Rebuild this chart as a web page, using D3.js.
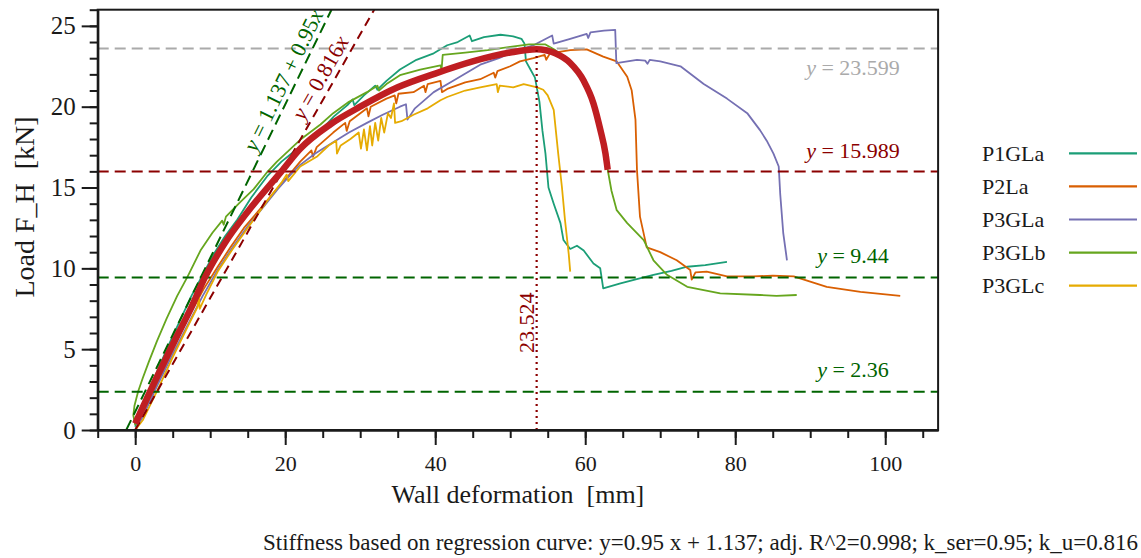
<!DOCTYPE html>
<html>
<head>
<meta charset="utf-8">
<script src="https://cdn.jsdelivr.net/npm/d3@7"></script>
<style>
  body { margin: 0; background: #fff; }
  svg text { font-family: "Liberation Serif", "Times New Roman", serif; }
</style>
</head>
<body>
<div class="visHolder"></div>
<script>
// test curves, [deformation mm, load kN]
const P1GLa = [[0,0.2],[0.5,0.9],[1.5,2.0],[3,3.7],[4.5,5.3],[6,6.8],[7.5,8.3],[9,9.6],[10.5,10.9],[12,12.0],[13.6,13.0],[15.5,14.4],[17.6,15.7],[19.5,16.6],[21.1,17.2],[23,17.9],[24.7,18.5],[26.5,19.4],[28.3,20.1],[29,20.45],[29.2,20.1],[30.5,20.7],[32,21.3],[32.3,21.05],[33.5,21.6],[35.3,22.3],[37.5,22.9],[39.8,23.3],[41.6,23.8],[43,24.0],[44.6,24.4],[44.9,24.05],[46.5,24.3],[48.7,24.45],[50.4,24.35],[51.5,24.2],[51.9,23.9],[52.1,22.8],[52.7,22.3],[53.3,21.8],[53.9,20.3],[54.3,18.5],[54.7,17.1],[55.1,15.0],[55.8,14.0],[56.7,12.8],[57.1,11.75],[58,11.2],[58.9,11.4],[59.8,11.1],[61.1,10.3],[62,10.0],[62.4,8.76],[64.7,9.07],[67,9.35],[69.1,9.6],[71.5,9.85],[73.6,10.1],[76,10.2],[78.9,10.4]];
const P2La = [[0,0],[1,0.9],[3,2.9],[5,4.9],[7,6.9],[9.1,8.7],[11,10.1],[12.7,11.3],[14.5,12.5],[16.7,13.7],[18.5,14.7],[20.2,15.6],[22,16.6],[23.5,17.3],[23.7,16.9],[24.2,17.5],[26.4,18.4],[28,19.0],[28.2,18.5],[28.6,19.1],[30.9,19.9],[31.1,19.4],[31.4,20.0],[33.5,20.5],[34.6,20.7],[34.8,20.2],[35.1,20.8],[37.1,20.9],[38.5,21.3],[38.7,20.9],[39,21.4],[40.7,21.6],[40.9,20.9],[41.6,21.1],[44,21.5],[46,21.7],[47.8,22.1],[48,21.8],[48.3,22.2],[50,22.5],[51.3,22.8],[53.1,23.0],[54.6,23.2],[54.8,22.9],[55.3,23.3],[58,23.5],[60.2,23.55],[62.4,23.1],[64.2,22.8],[65.6,21.85],[66.2,21.0],[66.7,19.2],[66.9,16.1],[67.3,13.2],[68.2,11.3],[70,11.0],[72.2,10.5],[74,9.9],[74.2,9.3],[74.7,9.75],[76.2,9.8],[78.9,9.5],[82.4,9.5],[85,9.55],[87.8,9.5],[92.2,8.86],[96.7,8.55],[102,8.3]];
const P3GLa = [[0,0],[1,0.8],[3,2.8],[5,4.7],[7,6.5],[9,8.3],[11,9.9],[13,11.3],[15,12.6],[17.1,13.8],[19,14.9],[21.1,16.0],[22,16.4],[24,17.1],[26.4,17.8],[28.5,18.4],[30.9,19.0],[33,19.5],[35.3,20.0],[36.1,20.15],[36.3,19.2],[37.3,19.9],[39.8,20.9],[42,21.5],[44.2,22.1],[46,22.6],[48.5,23.0],[50.4,23.4],[53.1,23.8],[55.6,24.4],[55.8,23.9],[58,24.2],[60.2,24.5],[60.4,24.25],[60.7,24.6],[62.5,24.7],[64,24.75],[64.15,22.7],[66.9,22.9],[68,22.85],[68.3,22.65],[68.6,22.9],[70,22.8],[72.7,22.5],[75.8,21.4],[78.9,20.5],[81.6,19.6],[83.3,18.55],[84.2,17.9],[85.1,17.1],[85.8,16.3],[86,14.6],[86.4,12.2],[86.9,10.5]];
const P3GLb = [[0,0.3],[-0.25,0.9],[-0.1,1.5],[0.4,2.4],[1.0,3.2],[1.8,4.2],[2.9,5.5],[4.2,6.9],[5.6,8.3],[7.0,9.5],[8.7,11.1],[10.3,12.2],[11.6,12.95],[11.8,12.7],[12.1,13.2],[14,14.1],[15.8,14.9],[17.5,15.9],[18.9,16.6],[20.5,17.3],[22,17.95],[24.7,18.9],[26.4,19.6],[28.5,20.3],[30.9,20.9],[32.3,21.3],[32.5,21.0],[33.5,21.4],[35.3,21.95],[38,22.3],[40.7,22.55],[40.85,22.3],[41,23.2],[44,23.35],[47,23.5],[50,23.7],[52.5,23.85],[54.7,23.85],[56,23.5],[58,22.8],[59.8,21.7],[61.1,20.3],[62,18.7],[62.7,17.2],[63,16.1],[63.5,14.8],[64.2,13.6],[65.6,12.8],[67.8,11.75],[69.1,10.5],[70.9,9.6],[73.6,8.86],[78,8.45],[83.3,8.35],[85.5,8.3],[88.2,8.35]];
const P3GLc = [[0,0],[1,0.6],[3,2.5],[5,4.5],[7,6.4],[8.3,7.6],[8.5,8.2],[8.6,7.5],[9.5,8.4],[11,9.8],[13,11.2],[15,12.5],[17.5,14.1],[19.5,15.3],[20.2,15.8],[20.4,15.4],[22,16.3],[24.2,16.9],[25.8,17.6],[26.8,17.9],[26.9,17.1],[27.4,17.6],[28.7,18.0],[29.8,18.4],[30.1,17.4],[30.5,18.6],[30.9,17.3],[31.3,18.8],[31.6,17.6],[32,19.0],[32.4,17.9],[32.8,19.3],[33.2,18.4],[33.7,19.6],[34.1,19.3],[34.5,20.2],[34.65,19.0],[35.5,19.1],[37.1,19.5],[39,19.9],[40.7,20.4],[41.6,20.6],[44,21.0],[46,21.2],[48.2,21.4],[48.35,20.9],[48.6,21.3],[50.4,21.2],[51.8,21.4],[53.6,21.2],[54.4,21.05],[55,20.7],[55.8,19.8],[56.4,17.1],[56.9,15.0],[57.3,13.0],[57.8,10.9],[58,9.8]];

// fitted mean curve (thick red)
const fitCurve = [[0,0.4],[2.5,2.9],[5,5.3],[7.5,7.6],[9.3,9.44],[12,11.6],[15,13.5],[19.5,16.0],[22,17.4],[26,18.9],[30,20.0],[35,21.2],[40,22.05],[45,22.8],[50,23.35],[53.5,23.55],[56,23.3],[58,22.7],[59.8,21.6],[61.1,20.2],[62,18.6],[62.7,17.1],[63,16.1]];

const seriesNames = ["P1GLa","P2La","P3GLa","P3GLb","P3GLc"];
const seriesData = [P1GLa,P2La,P3GLa,P3GLb,P3GLc];
const seriesColors = ["#1b9e77","#d95f02","#7570b3","#66a61e","#e6ab02"];

const hLineValues = [23.599, 15.989, 9.44, 2.36];
const hLineLabels = ["23.599", "15.989", "9.44", "2.36"];
const hLineColors = ["#aaaaaa", "#8b0000", "#006400", "#006400"];
const regIntercept = 1.137, regSlope = 0.95, kU = 0.816;
const peakX = 53.524, peakY = 23.56, peakLabel = "23.524";

const xTicks = [0,20,40,60,80,100];
const yTicks = [0,5,10,15,20,25];

const W=1141,H=558;
const L=97.7,T=9.7,R=938.1,B=430;

const svg=d3.select(".visHolder").append("svg").attr("width",W).attr("height",H);

const x=d3.scaleLinear().domain([-5,107.05]).range([L,R]);
const y=d3.scaleLinear().domain([0,26]).range([B,T]);

svg.append("defs").append("clipPath").attr("id","plotclip")
  .append("rect").attr("x",L).attr("y",T).attr("width",R-L).attr("height",B-T);

const plot=svg.append("g").attr("clip-path","url(#plotclip)");
const line=d3.line().x(d=>x(d[0])).y(d=>y(d[1]));

seriesData.forEach((s,i)=>{
  plot.append("path").datum(s)
    .attr("d",line)
    .attr("fill","none")
    .attr("stroke",seriesColors[i])
    .attr("stroke-width",1.8)
    .attr("stroke-linejoin","round");
});

// horizontal reference lines
hLineValues.forEach((v,i)=>{
  plot.append("line")
    .attr("x1",L).attr("x2",R)
    .attr("y1",y(v)).attr("y2",y(v))
    .attr("stroke",hLineColors[i])
    .attr("stroke-width",2)
    .attr("stroke-dasharray","11,6");
});

// regression line and k_u line
plot.append("line")
  .attr("x1",x(-regIntercept/regSlope)).attr("y1",y(0))
  .attr("x2",x((26-regIntercept)/regSlope)).attr("y2",y(26))
  .attr("stroke","#006400").attr("stroke-width",2).attr("stroke-dasharray","11,6");
plot.append("line")
  .attr("x1",x(0)).attr("y1",y(0))
  .attr("x2",x(26/kU)).attr("y2",y(26))
  .attr("stroke","#8b0000").attr("stroke-width",2).attr("stroke-dasharray","9,6");

// thick fit curve
plot.append("path").datum(fitCurve)
  .attr("d",d3.line().x(d=>x(d[0])).y(d=>y(d[1])).curve(d3.curveMonotoneX))
  .attr("fill","none")
  .attr("stroke","#bf1e22")
  .attr("stroke-width",6.5)
  .attr("stroke-linecap","butt");

// vertical dotted line at peak
plot.append("line")
  .attr("x1",x(peakX)).attr("x2",x(peakX))
  .attr("y1",y(0)).attr("y2",y(peakY))
  .attr("stroke","#8b0000").attr("stroke-width",2.2).attr("stroke-dasharray","2,4");

// axes
const axisStyle=(g,fs)=>{
  g.attr("font-family",null);
  g.selectAll("path,line").attr("stroke","#1a1a1a").attr("stroke-width",2);
  g.selectAll("text").attr("font-size",fs).attr("fill","#1a1a1a");
};
svg.append("g").attr("transform","translate(0,"+B+")")
  .call(d3.axisBottom(x).tickValues(d3.range(-5,106,5)).tickSize(8).tickSizeOuter(0).tickFormat(""))
  .call(axisStyle,22);
svg.append("g").attr("transform","translate(0,"+B+")")
  .call(d3.axisBottom(x).tickValues(xTicks).tickSize(15).tickSizeOuter(0).tickPadding(10))
  .call(axisStyle,22);
svg.append("g").attr("transform","translate("+L+",0)")
  .call(d3.axisLeft(y).tickValues(d3.range(0,27,1)).tickSize(8).tickSizeOuter(0).tickFormat(""))
  .call(axisStyle,22);
svg.append("g").attr("transform","translate("+L+",0)")
  .call(d3.axisLeft(y).tickValues(yTicks).tickSize(16).tickSizeOuter(0).tickPadding(6))
  .call(axisStyle,25);

// frame
svg.append("rect").attr("x",L).attr("y",T).attr("width",R-L).attr("height",B-T)
  .attr("fill","none").attr("stroke","#1a1a1a").attr("stroke-width",2);

// horizontal line labels
const labY=[y(hLineValues[0])+26,y(hLineValues[1])-14,y(hLineValues[2])-14,y(hLineValues[3])-15];
hLineValues.forEach((v,i)=>{
  const t=svg.append("text").attr("x",853).attr("y",labY[i])
    .attr("text-anchor","middle").attr("font-size",22).attr("fill",hLineColors[i]);
  t.append("tspan").attr("font-style","italic").text("y");
  t.append("tspan").text(" = "+hLineLabels[i]);
});

// slope line labels
function slopeLabel(x0,y0,slope,off,parts,color){
  const px=x(x0),py=y(y0);
  const ang=Math.atan(slope*(B-T)/26/((R-L)/112.05))*180/Math.PI;
  const a=ang*Math.PI/180;
  const bx=px-off*Math.sin(a),by=py-off*Math.cos(a);
  const t=svg.append("text").attr("transform","translate("+bx+","+by+") rotate("+(-ang)+")")
    .attr("font-size",22).attr("fill",color);
  parts.forEach(p=>t.append("tspan").attr("font-style",p[1]?"italic":"normal").text(p[0]));
}
slopeLabel((17.0-regIntercept)/regSlope,17.0,regSlope,5,[["y",1],[" = 1.137 + 0.95",0],["x",1]],"#006400");
slopeLabel(18.9/kU,18.9,kU,6,[["y",1],[" = 0.816",0],["x",1]],"#8b0000");

// peak label
svg.append("text").attr("transform","translate("+(x(peakX)-3)+",353) rotate(-90)")
  .attr("font-size",22).attr("fill","#8b0000").text(peakLabel);

// axis titles
svg.append("text").attr("x",(L+R)/2).attr("y",503).attr("text-anchor","middle")
  .attr("font-size",26).attr("fill","#1a1a1a").text("Wall deformation\u00a0 [mm]");
svg.append("text").attr("transform","translate(34,207) rotate(-90)").attr("text-anchor","middle")
  .attr("font-size",28).attr("fill","#1a1a1a").text("Load F_H\u00a0 [kN]");

// caption
svg.append("text").attr("x",1138).attr("y",550).attr("text-anchor","end")
  .attr("font-size",23).attr("fill","#1a1a1a")
  .text("Stiffness based on regression curve: y=0.95 x + 1.137; adj. R^2=0.998; k_ser=0.95; k_u=0.816");

// legend
const leg=svg.append("g");
seriesNames.forEach((n,i)=>{
  const ly=153.3+i*33.1;
  leg.append("text").attr("x",982).attr("y",ly+7.5).attr("font-size",22).attr("fill","#1a1a1a").text(n);
  leg.append("line").attr("x1",1069).attr("x2",1137).attr("y1",ly).attr("y2",ly)
    .attr("stroke",seriesColors[i]).attr("stroke-width",2.2);
});
</script>
</body>
</html>
